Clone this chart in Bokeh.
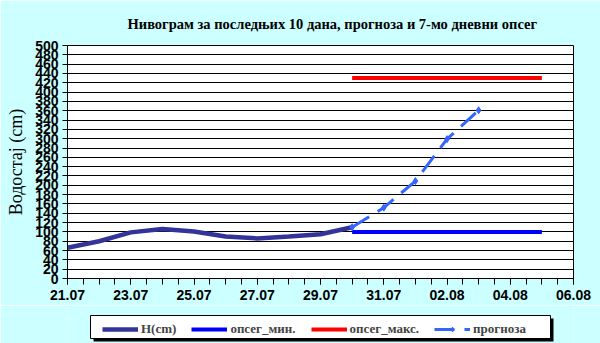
import pandas as pd
from bokeh.plotting import figure
from bokeh.layouts import column
from bokeh.models import (FixedTicker, DatetimeTickFormatter, Legend, LegendItem, Range1d,
                          BoxAnnotation)
from bokeh.embed import file_html
from bokeh.resources import INLINE

YEAR = "2024"
h_dates = ["21.07", "22.07", "23.07", "24.07", "25.07", "26.07", "27.07", "28.07", "29.07", "30.07"]
h_values = [66, 80, 99, 106, 101, 90, 86, 90, 95, 110]

fc_dates = ["30.07", "31.07", "01.08", "02.08", "03.08"]
fc_values = [110, 152, 209, 299, 361]

band_dates = ["30.07", "05.08"]
band_min = [100, 100]
band_max = [430, 430]

x_tick_labels = ["21.07", "23.07", "25.07", "27.07", "29.07", "31.07", "02.08", "04.08", "06.08"]
y_ticks = [0, 20, 40, 60, 80, 100, 120, 140, 160, 180, 200, 220, 240, 260, 280, 300,
           320, 340, 360, 380, 400, 420, 440, 460, 480, 500]

title_text = "Нивограм за последњих 10 дана, прогноза и 7-мо дневни опсег"
y_label = "Водостај (cm)"
legend_labels = ["H(cm)", "опсег_мин.", "опсег_макс.", "прогноза"]

C_H, C_MIN, C_MAX, C_FC = "#333399", "#0000FF", "#FF0000", "#3366FF"
BG = "#CCFFFF"


def to_dt(lst):
    return pd.to_datetime([f"{YEAR}-{d[3:5]}-{d[0:2]}" for d in lst])


hx = to_dt(h_dates)
fx = to_dt(fc_dates)
bx = to_dt(band_dates)
tx = to_dt(x_tick_labels)

ms = lambda t: t.value / 1e6
major = [ms(t) for t in tx]
minor = []
t0 = tx[0]
while t0 <= tx[-1]:
    minor.append(ms(t0))
    t0 = t0 + pd.Timedelta(hours=12)


def draw_series(fig):
    r_h = fig.line(hx, h_values, line_color=C_H, line_width=4.5)
    r_min = fig.line(bx, band_min, line_color=C_MIN, line_width=4)
    r_max = fig.line(bx, band_max, line_color=C_MAX, line_width=4)
    r_fc = fig.line(fx, fc_values, line_color=C_FC, line_width=3, line_dash="20 10")
    r_fcm = fig.scatter(fx, fc_values, marker="diamond", size=7, fill_color=C_FC,
                        line_color=C_FC)
    return r_h, r_min, r_max, r_fc, r_fcm


p = figure(width=600, height=305, x_axis_type="datetime", output_backend="svg",
           toolbar_location=None, min_border_left=67, min_border_right=27,
           min_border_top=44, min_border_bottom=27,
           x_range=Range1d(tx[0], tx[-1]), y_range=Range1d(0, 500))
p.title.text = title_text
p.title.align = "left"
p.title.offset = 60
p.title.text_font = "Liberation Serif"
p.title.text_font_style = "bold"
p.title.text_font_size = "14.5px"
p.title.text_color = "black"
p.title.standoff = 27
p.background_fill_color = "white"
p.border_fill_color = BG
p.outline_line_color = "black"
p.outline_line_width = 1

# axes
p.xaxis.ticker = FixedTicker(ticks=major, minor_ticks=minor)
p.xaxis.formatter = DatetimeTickFormatter(days="%d.%m", months="%d.%m", hours="%d.%m",
                                          years="%d.%m", hourmin="%d.%m")
p.xaxis.major_label_text_font = "Liberation Sans"
p.xaxis.major_label_text_font_style = "bold"
p.xaxis.major_label_text_font_size = "14px"
p.xaxis.major_label_text_color = "black"
p.xaxis.major_tick_out = 6
p.xaxis.major_tick_in = 0
p.xaxis.minor_tick_out = 6
p.xaxis.minor_tick_in = 0
p.xaxis.major_label_standoff = 5
p.xaxis.axis_line_color = "black"

p.yaxis.ticker = FixedTicker(ticks=y_ticks)
p.yaxis.major_label_text_font = "Liberation Sans"
p.yaxis.major_label_text_font_style = "bold"
p.yaxis.major_label_text_font_size = "14px"
p.yaxis.major_label_text_color = "black"
p.yaxis.major_tick_out = 5
p.yaxis.major_tick_in = 0
p.yaxis.minor_tick_out = 0
p.yaxis.minor_tick_in = 0
p.yaxis.major_label_standoff = 4
p.yaxis.axis_label = y_label
p.yaxis.axis_label_text_font = "Liberation Serif"
p.yaxis.axis_label_text_font_style = "normal"
p.yaxis.axis_label_text_font_size = "18px"
p.yaxis.axis_label_text_color = "black"
p.yaxis.axis_label_standoff = 6
p.yaxis.axis_line_color = "black"

p.xgrid.visible = False
p.ygrid.ticker = FixedTicker(ticks=y_ticks)
p.ygrid.grid_line_color = "black"
p.ygrid.grid_line_width = 1

draw_series(p)

# legend strip: a second figure with the same side borders as the chart, whose
# ranges equal its pixel extent; the series drawn into it fall outside its view
# and only serve the legend
q = figure(width=600, height=38, output_backend="svg", toolbar_location=None,
           x_axis_location=None, y_axis_location=None,
           min_border_left=67, min_border_right=27, min_border_top=0, min_border_bottom=0,
           x_range=Range1d(67, 573), y_range=Range1d(0, 38))
q.grid.visible = False
q.background_fill_color = BG
q.border_fill_color = BG
q.outline_line_color = None

l_h, l_min, l_max, l_fc, l_fcm = draw_series(q)

q.add_layout(BoxAnnotation(left=93, right=553, bottom=2, top=25, fill_color="black",
                           fill_alpha=1, line_color=None))
q.add_layout(BoxAnnotation(left=90, right=550, bottom=5, top=28, fill_color="white",
                           fill_alpha=1, line_color="black", line_width=1, line_alpha=1))

legend = Legend(items=[LegendItem(label=legend_labels[0], renderers=[l_h]),
                       LegendItem(label=legend_labels[1], renderers=[l_min]),
                       LegendItem(label=legend_labels[2], renderers=[l_max]),
                       LegendItem(label=legend_labels[3], renderers=[l_fc, l_fcm])],
                orientation="horizontal", location=(35, 6))
legend.label_text_font = "Liberation Serif"
legend.label_text_font_style = "bold"
legend.label_text_font_size = "13px"
legend.border_line_color = None
legend.background_fill_alpha = 0
legend.glyph_width = 36
legend.glyph_height = 12
legend.label_standoff = 3
legend.spacing = 15
legend.padding = 5
legend.margin = 0
legend.label_height = 12
q.add_layout(legend, "center")

layout = column(p, q, spacing=0)

open("out.html", "w").write(file_html(layout, INLINE))
